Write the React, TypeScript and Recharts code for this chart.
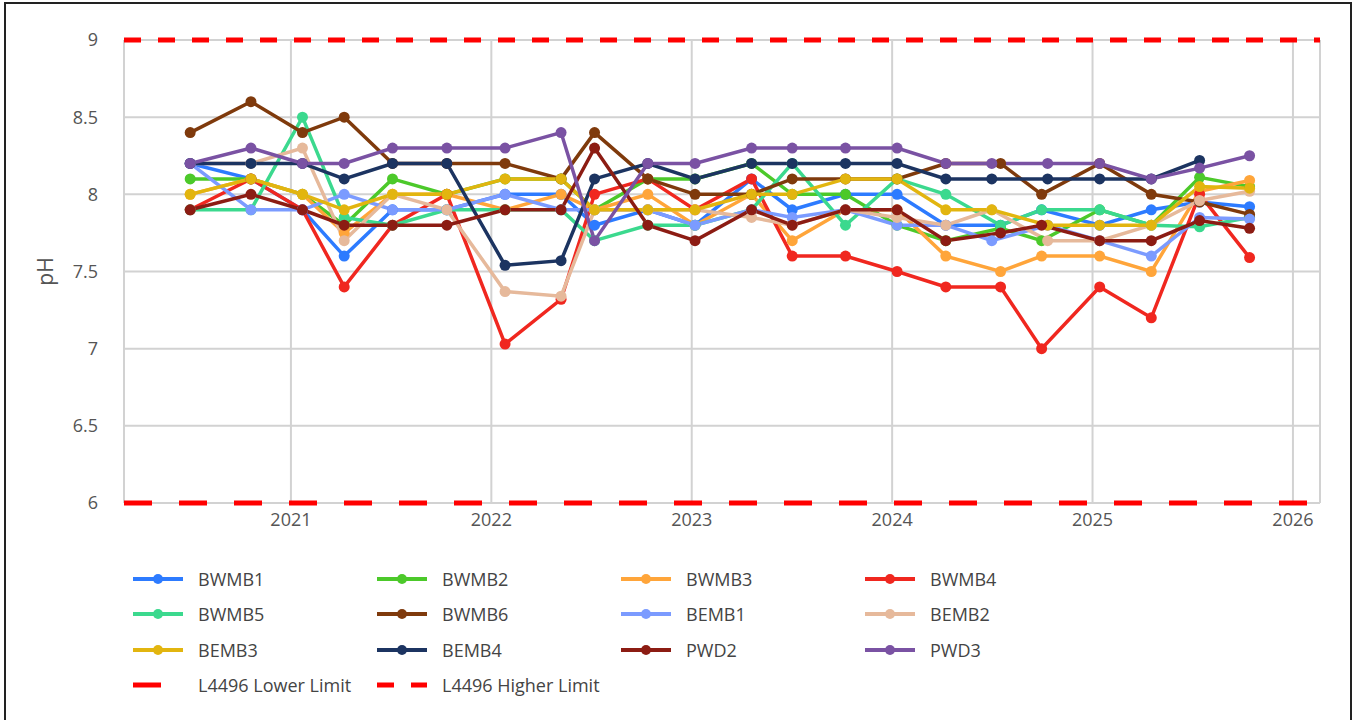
import React from "react";
import { LineChart, Line, XAxis, YAxis, CartesianGrid, ReferenceLine } from "recharts";

// sampling dates (two survey rounds in mid/late 2024 were a few days apart)
const DATES = [
  "2020-07-01", "2020-10-20", "2021-01-22", "2021-04-08", "2021-07-05", "2021-10-12",
  "2022-01-26", "2022-05-08", "2022-07-08", "2022-10-13", "2023-01-07", "2023-04-20",
  "2023-07-03", "2023-10-08", "2024-01-10", "2024-04-08", "2024-07-17", "2024-09-30",
  "2025-01-14", "2025-04-18", "2025-07-15", "2025-10-14",
];
const DATES_B = [
  "2020-07-01", "2020-10-20", "2021-01-22", "2021-04-08", "2021-07-05", "2021-10-12",
  "2022-01-26", "2022-05-08", "2022-07-08", "2022-10-13", "2023-01-07", "2023-04-20",
  "2023-07-03", "2023-10-08", "2024-01-10", "2024-04-08", "2024-07-01", "2024-10-11",
  "2025-01-14", "2025-04-18", "2025-07-15", "2025-10-14",
];

const BWMB1 = [8.2, 8.1, 7.9, 7.6, 7.9, 7.9, 8.0, 8.0, 7.8, 7.9, 7.8, 8.1, 7.9, 8.0, 8.0, 7.8, 7.8, 7.9, 7.8, 7.9, 7.95, 7.92];
const BWMB2 = [8.1, 8.1, 8.0, 7.8, 8.1, 8.0, 8.1, 8.1, 7.9, 8.1, 8.1, 8.2, 8.0, 8.0, 7.8, 7.7, 7.78, 7.7, 7.9, 7.8, 8.11, 8.05];
const BWMB3 = [8.0, 8.1, 8.0, 7.75, 8.0, 8.0, 7.9, 8.0, 7.9, 8.0, 7.8, 8.0, 7.7, 7.9, 7.9, 7.6, 7.5, 7.6, 7.6, 7.5, 8.02, 8.09];
const BWMB4 = [7.9, 8.1, 7.9, 7.4, 7.8, 8.0, 7.03, 7.32, 8.0, 8.1, 7.9, 8.1, 7.6, 7.6, 7.5, 7.4, 7.4, 7.0, 7.4, 7.2, 8.0, 7.59];
const BWMB5 = [7.9, 7.9, 8.5, 7.85, 7.8, 7.9, 7.9, 7.9, 7.7, 7.8, 7.8, 7.9, 8.2, 7.8, 8.1, 8.0, 7.8, 7.9, 7.9, 7.8, 7.79, 7.85];
const BWMB6 = [8.4, 8.6, 8.4, 8.5, 8.2, 8.2, 8.2, 8.1, 8.4, 8.1, 8.0, 8.0, 8.1, 8.1, 8.1, 8.2, 8.2, 8.0, 8.2, 8.0, 7.95, 7.87];
const BEMB1 = [8.2, 7.9, 7.9, 8.0, 7.9, 7.9, 8.0, 7.9, 7.9, 7.9, 7.8, 7.9, 7.85, 7.9, 7.8, 7.8, 7.7, 7.8, 7.7, 7.6, 7.85, 7.84];
const BEMB2 = [8.2, 8.2, 8.3, 7.7, 8.0, 7.9, 7.37, 7.34, 7.9, 7.9, 7.9, 7.85, 7.8, 7.9, 7.85, 7.8, 7.9, 7.7, 7.7, 7.8, 7.96, 8.02];
const BEMB3 = [8.0, 8.1, 8.0, 7.9, 8.0, 8.0, 8.1, 8.1, 7.9, 7.9, 7.9, 8.0, 8.0, 8.1, 8.1, 7.9, 7.9, 7.8, 7.8, 7.8, 8.05, 8.04];
const BEMB4 = [8.2, 8.2, 8.2, 8.1, 8.2, 8.2, 7.54, 7.57, 8.1, 8.2, 8.1, 8.2, 8.2, 8.2, 8.2, 8.1, 8.1, 8.1, 8.1, 8.1, 8.22, null];
const PWD2 = [7.9, 8.0, 7.9, 7.8, 7.8, 7.8, 7.9, 7.9, 8.3, 7.8, 7.7, 7.9, 7.8, 7.9, 7.9, 7.7, 7.75, 7.8, 7.7, 7.7, 7.83, 7.78];
const PWD3 = [8.2, 8.3, 8.2, 8.2, 8.3, 8.3, 8.3, 8.4, 7.7, 8.2, 8.2, 8.3, 8.3, 8.3, 8.3, 8.2, 8.2, 8.2, 8.2, 8.1, 8.17, 8.25];

const SERIES = [
  { name: "BWMB1", color: "#2d7bff", values: BWMB1, dates: DATES },
  { name: "BWMB2", color: "#4cc92a", values: BWMB2, dates: DATES },
  { name: "BWMB3", color: "#ffa53a", values: BWMB3, dates: DATES },
  { name: "BWMB4", color: "#f0271f", values: BWMB4, dates: DATES },
  { name: "BWMB5", color: "#3bd98e", values: BWMB5, dates: DATES },
  { name: "BWMB6", color: "#7f3a0c", values: BWMB6, dates: DATES },
  { name: "BEMB1", color: "#7b9bff", values: BEMB1, dates: DATES_B },
  { name: "BEMB2", color: "#e6b99b", values: BEMB2, dates: DATES_B },
  { name: "BEMB3", color: "#e2b50f", values: BEMB3, dates: DATES_B },
  { name: "BEMB4", color: "#1c3461", values: BEMB4, dates: DATES_B },
  { name: "PWD2", color: "#8c1c13", values: PWD2, dates: DATES },
  { name: "PWD3", color: "#7a52a3", values: PWD3, dates: DATES_B },
];

const LIMITS = [
  { name: "L4496 Lower Limit", value: 6, dash: "28 27" },
  { name: "L4496 Higher Limit", value: 9, dash: "17 17" },
];

const Y_TICKS = [6, 6.5, 7, 7.5, 8, 8.5, 9];
const X_TICKS = [2021, 2022, 2023, 2024, 2025, 2026];
const X_DOMAIN = [2020.167, 2026.135];

const FONT = "'Open Sans', sans-serif";

function toYear(d: string) {
  const t = Date.parse(d);
  const y = new Date(t).getUTCFullYear();
  const s = Date.UTC(y, 0, 1);
  const e = Date.UTC(y + 1, 0, 1);
  return y + (t - s) / (e - s);
}

function seriesData(dates: string[], values: (number | null)[]) {
  return dates
    .map((d, i) => ({ x: toYear(d), y: values[i] }))
    .filter((p) => p.y != null);
}

function LegendItem({ name, color, dash }: { name: string; color: string; dash?: string }) {
  return (
    <div style={{ display: "flex", alignItems: "center", height: 35.5 }}>
      <svg width={65} height={12} style={{ flex: "none" }}>
        {dash ? (
          <line x1={0} y1={6} x2={50} y2={6} stroke="#ff0000" strokeWidth={5} strokeDasharray={dash} />
        ) : (
          <>
            <line x1={0} y1={6} x2={50} y2={6} stroke={color} strokeWidth={4} />
            <circle cx={25} cy={6} r={5} fill={color} />
          </>
        )}
      </svg>
      <span style={{ fontSize: 18, color: "#444", whiteSpace: "nowrap" }}>{name}</span>
    </div>
  );
}

const PhLabel = (props: any) => {
  const vb = props.viewBox;
  const cx = vb.x + 45;
  const cy = vb.y + vb.height / 2;
  return (
    <text x={cx} y={cy} transform={`rotate(-90, ${cx}, ${cy})`} textAnchor="middle" dominantBaseline="central"
      fill="#555" fontSize={21} fontFamily={FONT}>
      pH
    </text>
  );
};

export default function App() {
  return (
    <div style={{ position: "fixed", left: 0, top: 0, width: 1359, height: 720, background: "#fff", fontFamily: FONT }}>
      <div style={{ position: "absolute", left: 4, top: 2, width: 1344, height: 740, border: "2px solid #222" }} />
      <div style={{ position: "absolute", left: 0, top: 0 }}>
        <LineChart width={1359} height={545} margin={{ top: 40, right: 39, bottom: 0, left: 0 }}>
          <CartesianGrid stroke="#d2d2d2" strokeWidth={2} />
          <XAxis
            type="number"
            dataKey="x"
            domain={X_DOMAIN}
            ticks={X_TICKS}
            allowDataOverflow
            height={42}
            tickSize={0}
            tickMargin={10}
            axisLine={false}
            tickLine={false}
            tickFormatter={(v) => String(v)}
            tick={{ fill: "#555", fontSize: 18, fontFamily: FONT }}
          />
          <YAxis
            type="number"
            dataKey="y"
            domain={[6, 9]}
            ticks={Y_TICKS}
            width={124}
            tickSize={0}
            tickMargin={26}
            axisLine={false}
            tickLine={false}
            tick={{ fill: "#555", fontSize: 18, fontFamily: FONT }}
            label={{ content: PhLabel }}
          />
          {LIMITS.map((l) => (
            <ReferenceLine key={l.name} y={l.value} stroke="#ff0000" strokeWidth={5} strokeDasharray={l.dash} />
          ))}
          {SERIES.map((s) => (
            <Line
              key={s.name}
              name={s.name}
              data={seriesData(s.dates, s.values)}
              dataKey="y"
              type="linear"
              stroke={s.color}
              strokeWidth={3.5}
              dot={{ r: 5.5, fill: s.color, stroke: s.color, strokeWidth: 0 }}
              activeDot={false}
              isAnimationActive={false}
            />
          ))}
        </LineChart>
      </div>
      <div
        style={{
          position: "absolute",
          left: 133,
          top: 561,
          display: "grid",
          gridTemplateColumns: "244px 244px 244px 244px",
        }}
      >
        {SERIES.map((s) => (
          <LegendItem key={s.name} name={s.name} color={s.color} />
        ))}
        {LIMITS.map((l) => (
          <LegendItem key={l.name} name={l.name} color="#ff0000" dash={l.dash} />
        ))}
      </div>
    </div>
  );
}
